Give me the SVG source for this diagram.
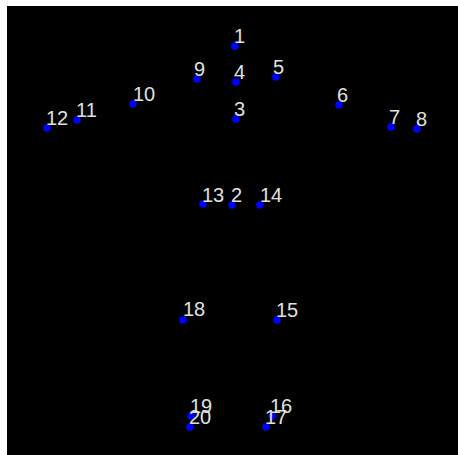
<svg xmlns="http://www.w3.org/2000/svg" width="458" height="455" viewBox="0 0 458 455">
<style>
.pt{fill:#0000ff}
.lb{fill:#e0e0e0;font-family:"Liberation Sans",Arial,sans-serif;font-size:20px}
</style>
<rect x="0" y="0" width="458" height="455" fill="#ffffff"/>
<rect x="7" y="6" width="451" height="449" fill="#000000"/>
<g id="connectors"></g>
<g id="n1"><circle class="pt" cx="235" cy="46" r="3.8"/><text class="lb" x="234" y="43">1</text></g>
<g id="n2"><circle class="pt" cx="232" cy="205" r="3.8"/><text class="lb" x="231" y="202">2</text></g>
<g id="n3"><circle class="pt" cx="236" cy="119" r="3.8"/><text class="lb" x="234" y="116">3</text></g>
<g id="n4"><circle class="pt" cx="236" cy="82" r="3.8"/><text class="lb" x="234" y="79">4</text></g>
<g id="n5"><circle class="pt" cx="276" cy="77" r="3.8"/><text class="lb" x="273" y="74">5</text></g>
<g id="n6"><circle class="pt" cx="339" cy="105" r="3.8"/><text class="lb" x="337" y="102">6</text></g>
<g id="n7"><circle class="pt" cx="391" cy="127" r="3.8"/><text class="lb" x="389" y="124">7</text></g>
<g id="n8"><circle class="pt" cx="417" cy="129" r="3.8"/><text class="lb" x="416" y="126">8</text></g>
<g id="n9"><circle class="pt" cx="197" cy="79" r="3.8"/><text class="lb" x="194" y="76">9</text></g>
<g id="n10"><circle class="pt" cx="133" cy="104" r="3.8"/><text class="lb" x="133" y="101">10</text></g>
<g id="n11"><circle class="pt" cx="77" cy="120" r="3.8"/><text class="lb" x="76" y="117">11</text></g>
<g id="n12"><circle class="pt" cx="47" cy="128" r="3.8"/><text class="lb" x="46" y="125">12</text></g>
<g id="n13"><circle class="pt" cx="203" cy="204" r="3.8"/><text class="lb" x="202" y="202">13</text></g>
<g id="n14"><circle class="pt" cx="260" cy="205" r="3.8"/><text class="lb" x="260" y="202">14</text></g>
<g id="n15"><circle class="pt" cx="277" cy="320" r="3.8"/><text class="lb" x="276" y="317">15</text></g>
<g id="n16"><circle class="pt" cx="272" cy="416" r="3.8"/><text class="lb" x="270" y="413">16</text></g>
<g id="n17"><circle class="pt" cx="266" cy="427" r="3.8"/><text class="lb" x="265" y="424">17</text></g>
<g id="n18"><circle class="pt" cx="183" cy="320" r="3.8"/><text class="lb" x="183" y="316">18</text></g>
<g id="n19"><circle class="pt" cx="191" cy="416" r="3.8"/><text class="lb" x="190" y="413">19</text></g>
<g id="n20"><circle class="pt" cx="190" cy="427" r="3.8"/><text class="lb" x="189" y="424">20</text></g>
</svg>
